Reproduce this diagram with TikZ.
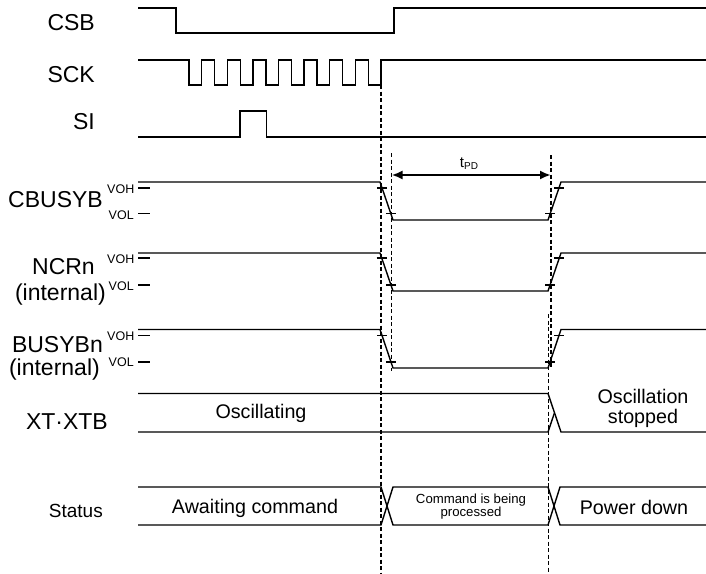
\documentclass[tikz,border=0pt]{standalone}
\usepackage{fontspec}
\setmainfont{Liberation Sans}
\usetikzlibrary{arrows.meta}
\begin{document}
\begin{tikzpicture}[x=1pt,y=-1pt,
  wave/.style={line width=1.4pt,line join=miter},
  guide/.style={line width=1.5pt,dash pattern=on 4pt off 2.5pt},
  tick/.style={line width=1.2pt},
  sig/.style={inner sep=0pt,font=\fontsize{23}{26}\selectfont},
  lvl/.style={inner sep=0pt,font=\fontsize{12.5}{13}\selectfont},
  lab/.style={inner sep=0pt,font=\fontsize{19.7}{23}\selectfont,align=center},
  small/.style={inner sep=0pt,font=\fontsize{13.2}{14.5}\selectfont,align=center}]
\useasboundingbox (0,0) rectangle (706,573);

% ---- signal names ----
\node[sig,anchor=base east] (nCSB) at (95,30) {CSB};
\node[sig,anchor=base east] (nSCK) at (95,82) {SCK};
\node[sig,anchor=base east] (nSI) at (95,129.5) {SI};
\node[sig,anchor=base east] (nCB) at (103,207) {CBUSYB};
\node[sig,anchor=base east] (nNC) at (95,274) {NCRn};
\node[sig,anchor=base east] (nNCi) at (106,300) {(internal)};
\node[sig,anchor=base east] (nBB) at (103,352) {BUSYBn};
\node[sig,anchor=base east] (nBBi) at (100,375) {(internal)};
\node[sig,anchor=base east] (nXT) at (108,429) {XT·XTB};
\node[inner sep=0pt,font=\fontsize{19}{22}\selectfont,anchor=base east] (nST) at (103,517) {Status};

% ---- VOH / VOL labels ----
\node[lvl,anchor=base west] (vh1) at (107,193) {VOH};
\node[lvl,anchor=base west] (vl1) at (108.5,219) {VOL};
\node[lvl,anchor=base west] (vh2) at (107,263.5) {VOH};
\node[lvl,anchor=base west] (vl2) at (108.5,290) {VOL};
\node[lvl,anchor=base west] (vh3) at (107,340.5) {VOH};
\node[lvl,anchor=base west] (vl3) at (108.5,366.5) {VOL};

% ---- CSB ----
\draw[wave] (138,8) -- (176,8) -- (176,33) -- (394,33) -- (394,8) -- (706,8);
% ---- SCK ----
\draw[wave] (138,60) -- (189,60)
  \foreach \k in {0,...,7} { -- ({189+25.6*\k},60) -- ({189+25.6*\k},85)
     -- ({201.7+25.6*\k},85) -- ({201.7+25.6*\k},60) } -- (706,60);
% ---- SI ----
\draw[wave] (138,137) -- (240,137) -- (240,111) -- (266.5,111) -- (266.5,137) -- (706,137);

% ---- CBUSYB, NCRn, BUSYBn ----
\foreach \hi/\lo/\ta/\tb in {182/220/188/213.5, 253/291/258/285, 329.5/368/335.5/362}{
  \draw[wave] (138,\hi) -- (380,\hi) -- (393,\lo) -- (548,\lo) -- (561,\hi) -- (706,\hi);
  \draw[tick] (138,\ta) -- (150,\ta);
  \draw[tick] (138,\tb) -- (150,\tb);
  \draw[tick] ({380+13*(\ta-\hi)/(\lo-\hi)-5},\ta) -- ++(10,0);
  \draw[tick] ({380+13*(\tb-\hi)/(\lo-\hi)-5},\tb) -- ++(10,0);
  \draw[tick] ({561-13*(\ta-\hi)/(\lo-\hi)-5},\ta) -- ++(10,0);
  \draw[tick] ({561-13*(\tb-\hi)/(\lo-\hi)-5},\tb) -- ++(10,0);
}

% ---- XT.XTB ----
\draw[wave] (138,393.5) -- (548,393.5) -- (561,432) -- (706,432);
\draw[wave] (138,432) -- (548,432) -- (554.5,412.75);
\node[lab,anchor=base] (tOsc) at (261,418) {Oscillating};
\node[lab,anchor=base] (tStop1) at (643,403) {Oscillation};
\node[lab,anchor=base] (tStop2) at (643,423.5) {stopped};

% ---- Status ----
\draw[wave] (138,487) -- (381,487) -- (393,525) -- (548,525) -- (560,487) -- (706,487);
\draw[wave] (138,525) -- (381,525) -- (393,487) -- (548,487) -- (560,525) -- (706,525);
\node[lab,anchor=base] (tAw) at (255,513) {Awaiting command};
\node[small,anchor=base] (tCmd1) at (471,503) {Command is being};
\node[small,anchor=base] (tCmd2) at (471,516.5) {processed};
\node[lab,anchor=base] (tPow) at (634,514) {Power down};

% ---- guide lines ----
\coordinate (gA1) at (381,85);  \coordinate (gA2) at (381,573);
\coordinate (gB1) at (391.5,153); \coordinate (gB2) at (391.5,371);
\coordinate (gC1) at (551,155); \coordinate (gC2) at (551,369);
\coordinate (gD1) at (548.3,314); \coordinate (gD2) at (548.3,573);
\draw[guide] (gA1) -- (gA2);
\draw[guide] (gB1) -- (gB2);
\draw[guide] (gC1) -- (gC2);
\draw[guide] (gD1) -- (gD2);

% ---- tPD ----
\coordinate (pL) at (391.5,175);
\coordinate (pR) at (551,175);
\draw[line width=2.2pt,{Latex[length=11pt,width=9pt]}-{Latex[length=11pt,width=9pt]}] (pL) -- (pR);
\node[inner sep=0pt,anchor=base] (tpd) at (469,167.5)
  {\fontsize{15}{15}\selectfont t\raisebox{-2pt}{\fontsize{10}{10}\selectfont PD}};
\end{tikzpicture}
\end{document}
